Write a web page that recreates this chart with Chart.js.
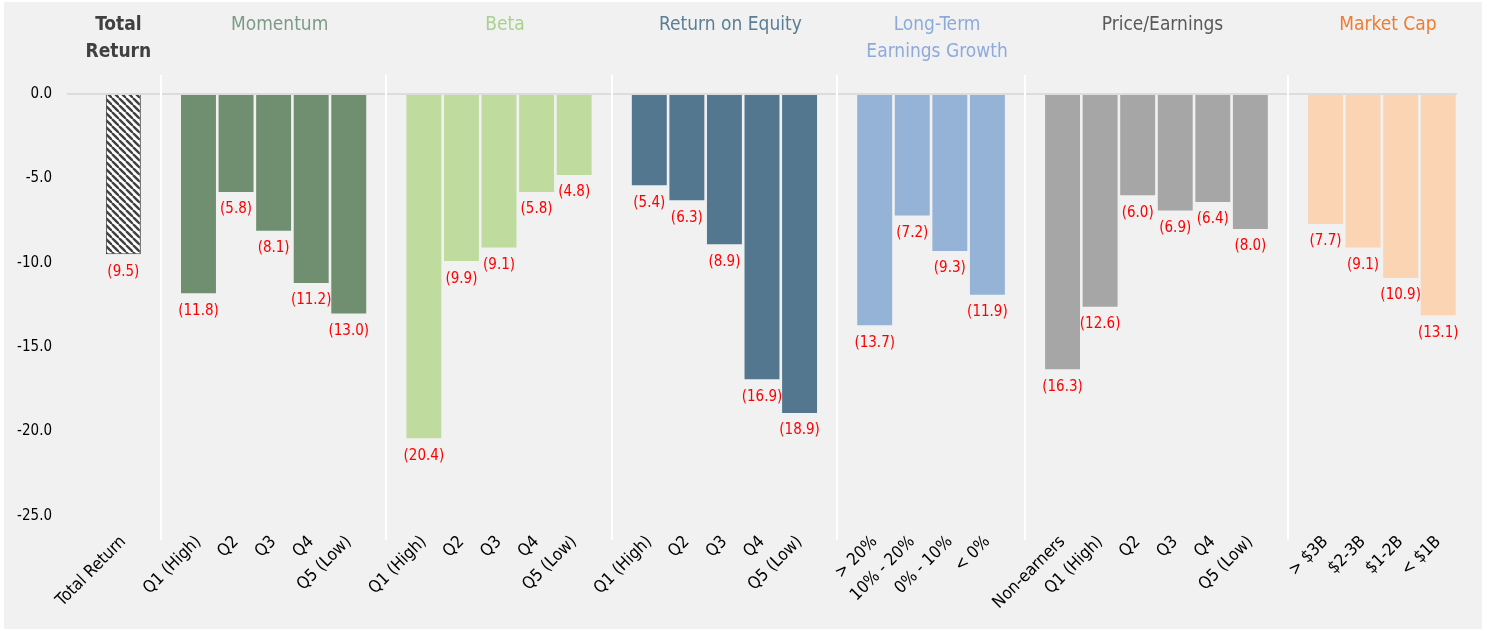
<!DOCTYPE html>
<html>
<head>
<meta charset="utf-8">
<script src="https://cdn.jsdelivr.net/npm/chart.js@4.4.1/dist/chart.umd.min.js"></script>
<style>
  body { margin: 0; background: #fff; }
  #wrap { width: 1487px; height: 631px; position: relative; }
</style>
</head>
<body>
<div id="wrap"><canvas id="chartCanvas"></canvas></div>
<script>
// values (negative returns, %)
const totalReturn = [-9.5];
const momentum = [-11.8, -5.8, -8.1, -11.2, -13.0];
const beta = [-20.4, -9.9, -9.1, -5.8, -4.8];
const roe = [-5.4, -6.3, -8.9, -16.9, -18.9];
const ltGrowth = [-13.7, -7.2, -9.3, -11.9];
const peRatio = [-16.3, -12.6, -6.0, -6.9, -6.4, -8.0];
const marketCap = [-7.7, -9.1, -10.9, -13.1];

const totalLabels = ['Total Return'];
const quintLabels = ['Q1 (High)', 'Q2', 'Q3', 'Q4', 'Q5 (Low)'];
const growthLabels = ['> 20%', '10% - 20%', '0% - 10%', '< 0%'];
const peLabels = ['Non-earners', 'Q1 (High)', 'Q2', 'Q3', 'Q4', 'Q5 (Low)'];
const capLabels = ['> $3B', '$2-3B', '$1-2B', '< $1B'];

const groupTitles = [['Total', 'Return'], ['Momentum'], ['Beta'], ['Return on Equity'],
  ['Long-Term', 'Earnings Growth'], ['Price/Earnings'], ['Market Cap']];
const titleColors = ['#404040', '#7b9b86', '#a9d18e', '#5a7f95', '#8eaadb', '#595959', '#ed7d31'];
const barColors = [null, '#6f8f70', '#bfdc9e', '#52778f', '#95b3d7', '#a6a6a6', '#fbd4b4'];

const groups = [
  { data: totalReturn, labels: totalLabels },
  { data: momentum, labels: quintLabels },
  { data: beta, labels: quintLabels },
  { data: roe, labels: quintLabels },
  { data: ltGrowth, labels: growthLabels },
  { data: peRatio, labels: peLabels },
  { data: marketCap, labels: capLabels }
];

// hatch pattern for the total return bar
function makeHatch() {
  const s = 7;
  const c = document.createElement('canvas');
  c.width = s; c.height = s;
  const g = c.getContext('2d');
  g.fillStyle = '#fff';
  g.fillRect(0, 0, s, s);
  g.strokeStyle = '#404040';
  g.lineWidth = 2.4;
  [-s, 0, s].forEach(o => {
    g.beginPath();
    g.moveTo(o, 0);
    g.lineTo(o + s, s);
    g.stroke();
  });
  return g.createPattern(c, 'repeat');
}
const hatch = makeHatch();

// flatten groups into one category axis, empty slot before each group
const labels = [];
const values = [];
const colors = [];
const borders = [];
const groupSlots = []; // [first, last] index of each group
const gapSlots = [];
groups.forEach((grp, gi) => {
  if (gi > 0) gapSlots.push(labels.length);
  labels.push('');
  values.push(null);
  colors.push('rgba(0,0,0,0)');
  borders.push(0);
  const first = labels.length;
  grp.data.forEach((v, i) => {
    labels.push(grp.labels[i]);
    values.push(v);
    colors.push(gi === 0 ? hatch : barColors[gi]);
    borders.push(gi === 0 ? 1 : 0);
  });
  groupSlots.push([first, labels.length - 1]);
});

const narrow = "'DejaVu Sans Condensed', 'DejaVu Sans', sans-serif";
const headFont = "'DejaVu Sans Condensed', 'DejaVu Sans', sans-serif";

const backdrop = {
  id: 'backdrop',
  beforeDraw(chart) {
    const ctx = chart.ctx;
    ctx.save();
    ctx.fillStyle = '#ffffff';
    ctx.fillRect(0, 0, chart.width, chart.height);
    ctx.fillStyle = '#f1f1f1';
    ctx.fillRect(4, 2, 1478, 627);
    ctx.restore();
  }
};

const decorations = {
  id: 'decorations',
  afterDraw(chart) {
    const ctx = chart.ctx;
    const x = chart.scales.x;
    ctx.save();
    // white separators between groups
    ctx.strokeStyle = '#ffffff';
    ctx.lineWidth = 2;
    gapSlots.forEach(idx => {
      const px = Math.round(x.getPixelForValue(idx));
      ctx.beginPath();
      ctx.moveTo(px, 75);
      ctx.lineTo(px, 540);
      ctx.stroke();
    });
    // group headers
    ctx.textAlign = 'center';
    ctx.textBaseline = 'middle';
    groupTitles.forEach((lines, gi) => {
      const [a, b] = groupSlots[gi];
      const cx = (x.getPixelForValue(a) + x.getPixelForValue(b)) / 2 + (gi === 0 ? -5 : 6);
      ctx.fillStyle = titleColors[gi];
      ctx.font = (gi === 0 ? 'bold ' : '') + '19px ' + headFont;
      lines.forEach((ln, li) => ctx.fillText(ln, cx, 25 + li * 27));
    });
    // value labels under each bar
    const meta = chart.getDatasetMeta(0);
    ctx.fillStyle = '#ff0000';
    ctx.font = '15px ' + narrow;
    ctx.textBaseline = 'top';
    meta.data.forEach((el, i) => {
      const v = values[i];
      if (v === null) return;
      ctx.fillText('(' + Math.abs(v).toFixed(1) + ')', el.x, el.y + 10);
    });
    ctx.restore();
  }
};

new Chart(document.getElementById('chartCanvas').getContext('2d'), {
  type: 'bar',
  data: {
    labels: labels,
    datasets: [{
      data: values,
      backgroundColor: colors,
      borderColor: '#404040',
      borderWidth: borders,
      categoryPercentage: 1,
      barPercentage: 0.93
    }]
  },
  plugins: [backdrop, decorations],
  options: {
    responsive: true,
    maintainAspectRatio: false,
    animation: false,
    layout: { padding: { top: 94, right: 30, left: 0, bottom: 0 } },
    plugins: {
      legend: { display: false },
      tooltip: { enabled: false }
    },
    scales: {
      x: {
        grid: { display: false },
        border: { display: false },
        ticks: {
          autoSkip: false,
          maxRotation: 45,
          minRotation: 45,
          padding: 8,
          color: '#000',
          font: { family: narrow, size: 17 }
        },
        afterFit(scale) { scale.height = 115; }
      },
      y: {
        min: -25,
        max: 0,
        border: { display: false },
        grid: {
          drawTicks: false,
          lineWidth: 2,
          color: ctx => ctx.tick && ctx.tick.value === 0 ? '#dcdcdc' : 'rgba(0,0,0,0)'
        },
        ticks: {
          stepSize: 5,
          padding: 15,
          color: '#000',
          font: { family: narrow, size: 15 },
          callback: v => v.toFixed(1)
        },
        afterFit(scale) { scale.width = 67; }
      }
    }
  }
});
</script>
</body>
</html>
